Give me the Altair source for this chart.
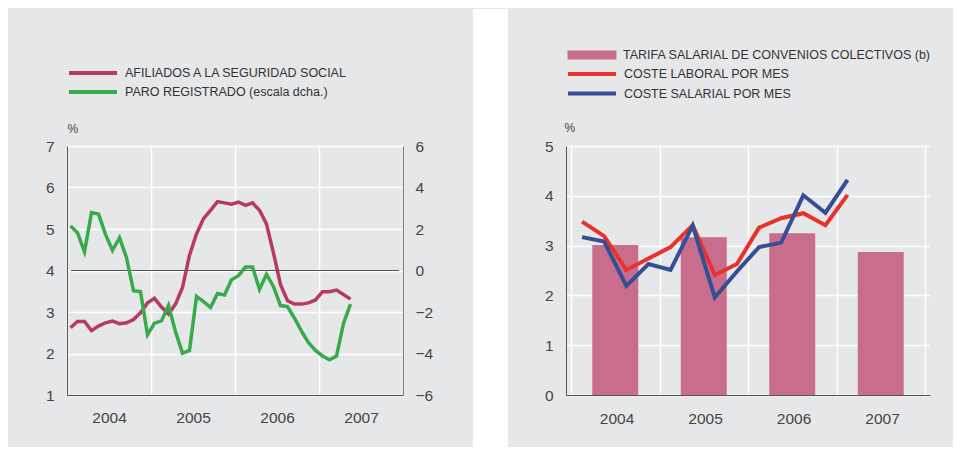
import altair as alt
import pandas as pd

FONT = "Liberation Sans"
BG = "#e6e7e8"
TXT = "#454545"

# ---------------- Left panel: monthly, Jan 2004 - May 2007 ----------------
AF_LABEL = "AFILIADOS A LA SEGURIDAD SOCIAL"
PARO_LABEL = "PARO REGISTRADO (escala dcha.)"
afiliados = [2.62, 2.77, 2.77, 2.55, 2.66, 2.74, 2.78, 2.72, 2.74, 2.82,
             2.98, 3.22, 3.33, 3.12, 2.95, 3.19, 3.59, 4.37, 4.88, 5.25,
             5.45, 5.66, 5.63, 5.60, 5.65, 5.57, 5.63, 5.45, 5.12, 4.42,
             3.66, 3.27, 3.19, 3.19, 3.22, 3.29, 3.49, 3.49, 3.53, 3.42, 3.31]
paro = [2.14, 1.82, 0.90, 2.79, 2.72, 1.74, 0.97, 1.58, 0.62, -0.97,
        -1.02, -3.10, -2.54, -2.43, -1.68, -2.95, -3.98, -3.85, -1.25, -1.50,
        -1.78, -1.11, -1.18, -0.45, -0.25, 0.17, 0.17, -0.91, -0.18, -0.78,
        -1.69, -1.74, -2.30, -2.92, -3.48, -3.85, -4.12, -4.30, -4.12, -2.55, -1.62]
left_years = [2004, 2005, 2006, 2007]
left_y_ticks = [1, 2, 3, 4, 5, 6, 7]
right_y_ticks = [-6, -4, -2, 0, 2, 4, 6]

# ---------------- Right panel: quarterly, 2004Q1 - 2007Q1 ----------------
TARIFA = "TARIFA SALARIAL DE CONVENIOS COLECTIVOS (b)"
LABORAL = "COSTE LABORAL POR MES"
SALARIAL = "COSTE SALARIAL POR MES"
years = [2004, 2005, 2006, 2007]
tarifa = [3.01, 3.17, 3.25, 2.87]
coste_laboral = [3.48, 3.19, 2.51, 2.74, 2.97, 3.41, 2.41, 2.63, 3.36, 3.55, 3.65, 3.41, 4.02]
coste_salarial = [3.17, 3.08, 2.19, 2.63, 2.51, 3.40, 1.96, 2.48, 2.97, 3.06, 4.01, 3.66, 4.32]
r_y_ticks = [0, 1, 2, 3, 4, 5]

MAGENTA = "#b73a63"
GREEN = "#37ab4a"
RED = "#e8322c"
BLUE = "#354f97"
BAR = "#c86e8c"

# ---------- derived tables ----------
n_m = len(afiliados)
df_af = pd.DataFrame({"m": [i + 0.5 for i in range(n_m)], "v": afiliados, "serie": AF_LABEL})
df_paro = pd.DataFrame({"m": [i + 0.5 for i in range(n_m)], "v": paro, "serie": PARO_LABEL})
df_zero = pd.DataFrame({"v": [0]})

n_q = len(coste_laboral)
df_bar = pd.DataFrame({"x": [i + 0.5 for i in range(len(years))], "v": tarifa, "serie": TARIFA})
df_lab = pd.DataFrame({"x": [q / 4 + 0.125 for q in range(n_q)], "v": coste_laboral, "serie": LABORAL})
df_sal = pd.DataFrame({"x": [q / 4 + 0.125 for q in range(n_q)], "v": coste_salarial, "serie": SALARIAL})

LW, LH = 336, 249
RW, RH = 364, 249
TOP_L, BOT_L = -137, 301   # panel extent relative to left plot (page y 8 .. 446)
TOP_R, BOT_R = -138, 300

common_axis = dict(ticks=False, tickSize=0, labelFont=FONT, labelColor=TXT,
                   labelFontSize=15.5, title=None)

# ---------- left chart ----------
x_left = alt.X("m:Q", scale=alt.Scale(domain=[0, 48], nice=False, zero=False),
               axis=alt.Axis(values=[0, 12, 24, 36, 48],
                             labelExpr="datum.value < 48 ? toString(2004 + datum.value / 12) : ''",
                             labelOffset={"condition": {"test": "datum.value >= 48", "value": 0},
                                          "value": 42},
                             labelPadding=15, grid=True, gridColor="white",
                             gridWidth=1.5, domainColor="#555", domainWidth=1,
                             labelFlush=False, labelOverlap=False, labelBound=False,
                             **common_axis))

y_af_axis = alt.Axis(orient="left", values=left_y_ticks, grid=True, gridColor="white",
                     gridWidth=1.5, domainColor="#555", domainWidth=1, labelPadding=13,
                     ticks=False, tickSize=0, labelFont=FONT, labelColor=TXT, labelFontSize=15.5,
                     title="%", titleAngle=0, titleX=0, titleY=-18, titleAlign="left",
                     titleBaseline="middle", titleFontSize=12, titleFontWeight="normal",
                     titleColor=TXT, titleFont=FONT)
y_af = alt.Y("v:Q", scale=alt.Scale(domain=[1, 7], nice=False, zero=False), axis=y_af_axis)

y_paro_axis = alt.Axis(orient="right", values=right_y_ticks, grid=False, domainColor="#777",
                       domainWidth=1, labelPadding=12, **common_axis)
y_paro = alt.Y("v:Q", scale=alt.Scale(domain=[-6, 6], nice=False, zero=False), axis=y_paro_axis)

left_legend = alt.Legend(title=None, orient="none", legendX=16, legendY=-83,
                         symbolType="M-3,0H3", symbolSize=256, symbolStrokeWidth=4,
                         labelFont=FONT, labelFontSize=12.5, labelColor="#333",
                         labelOffset=22, rowPadding=1, labelLimit=0)
stroke_left = alt.Stroke("serie:N", scale=alt.Scale(domain=[AF_LABEL, PARO_LABEL],
                                                    range=[MAGENTA, GREEN]),
                         legend=left_legend)

gap_rect = alt.Chart(df_zero).mark_rect(color="white").encode(
    x=alt.value(406), x2=alt.value(441), y=alt.value(TOP_L), y2=alt.value(BOT_L))
margin_rect = alt.Chart(df_zero).mark_rect(color=BG).encode(
    x=alt.value(-59), x2=alt.value(-50), y=alt.value(TOP_L), y2=alt.value(BOT_L))

af_line = alt.Chart(df_af).mark_line(strokeWidth=3.5).encode(x=x_left, y=y_af, stroke=stroke_left)

zero_rule = alt.Chart(df_zero).mark_rule(color="#555", strokeWidth=1).encode(
    y=y_paro, x=alt.value(4), x2=alt.value(332))
paro_line = alt.Chart(df_paro).mark_line(strokeWidth=3.5).encode(x=x_left, y=y_paro, stroke=stroke_left)
paro_group = alt.layer(zero_rule, paro_line)

left = alt.layer(gap_rect, margin_rect, af_line, paro_group).resolve_scale(
    y="independent").properties(width=LW, height=LH)

# ---------- right chart ----------
x_right = alt.X("x:Q", scale=alt.Scale(domain=[0, 4], nice=False, zero=False),
                axis=alt.Axis(values=[0, 1, 2, 3, 4],
                              labelExpr="datum.value < 4 ? toString(2004 + datum.value) : ''",
                              labelOffset={"condition": {"test": "datum.value >= 4", "value": 0},
                                           "value": 45.5},
                              labelPadding=16, grid=True, gridColor="white",
                              gridWidth=1.5, domainColor="#555", domainWidth=1,
                              labelFlush=False, labelOverlap=False, labelBound=False,
                              **common_axis))
y_right = alt.Y("v:Q", scale=alt.Scale(domain=[0, 5], nice=False, zero=False),
                axis=alt.Axis(orient="left", values=r_y_ticks, grid=True, gridColor="white",
                              gridWidth=1.5, domainColor="#555", domainWidth=1, labelPadding=13,
                              ticks=False, tickSize=0, labelFont=FONT, labelColor=TXT,
                              labelFontSize=15.5, title="%", titleAngle=0, titleX=-2, titleY=-19,
                              titleAlign="left", titleBaseline="middle", titleFontSize=12,
                              titleFontWeight="normal", titleColor=TXT, titleFont=FONT))

bar_legend = alt.Legend(title=None, orient="none", legendX=18, legendY=-99,
                        symbolType="M-3.06,-0.56H3.06V0.56H-3.06Z", symbolSize=256,
                        symbolStrokeWidth=0, labelFont=FONT, labelFontSize=12.5,
                        labelColor="#333", labelOffset=23, rowPadding=0, labelLimit=0)
line_legend = alt.Legend(title=None, orient="none", legendX=16, legendY=-82,
                         symbolType="M-3,0H3", symbolSize=256, symbolStrokeWidth=4,
                         labelFont=FONT, labelFontSize=12.5, labelColor="#333",
                         labelOffset=22, rowPadding=1.5, labelLimit=0)

stroke_right = alt.Stroke("serie:N", scale=alt.Scale(domain=[LABORAL, SALARIAL], range=[RED, BLUE]),
                          legend=line_legend)

r_margin_l = alt.Chart(df_zero).mark_rect(color=BG).encode(
    x=alt.value(-58), x2=alt.value(-50), y=alt.value(TOP_R), y2=alt.value(BOT_R))
r_margin_r = alt.Chart(df_zero).mark_rect(color=BG).encode(
    x=alt.value(375), x2=alt.value(387), y=alt.value(TOP_R), y2=alt.value(BOT_R))

bars = alt.Chart(df_bar).mark_bar(size=46).encode(
    x=x_right, y=y_right,
    fill=alt.Fill("serie:N", scale=alt.Scale(domain=[TARIFA], range=[BAR]), legend=bar_legend))
lab_line = alt.Chart(df_lab).mark_line(strokeWidth=4).encode(x=x_right, y=y_right, stroke=stroke_right)
sal_line = alt.Chart(df_sal).mark_line(strokeWidth=4).encode(x=x_right, y=y_right, stroke=stroke_right)

right = alt.layer(r_margin_l, r_margin_r, bars, lab_line, sal_line).properties(width=RW, height=RH)

chart = alt.hconcat(left, right, spacing=0).resolve_scale(
    stroke="independent", fill="independent"
).resolve_legend(stroke="independent", fill="independent").properties(
    background=BG, padding=0
).configure_view(stroke=None).configure_legend(labelFont=FONT)

chart.save("out.html", embed_options={"renderer": "svg", "actions": False})
